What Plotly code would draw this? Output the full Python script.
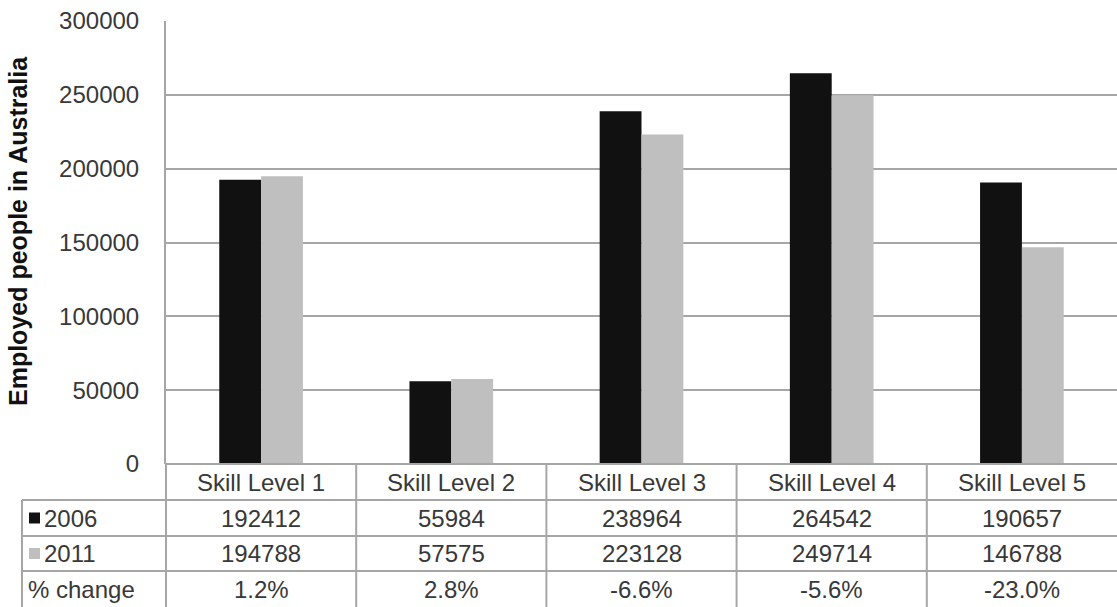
import plotly.graph_objects as go

# Employment by skill level, census years 2006 and 2011
categories = ["Skill Level 1", "Skill Level 2", "Skill Level 3", "Skill Level 4", "Skill Level 5"]
years = ["2006", "2011"]
employed_2006 = [192412, 55984, 238964, 264542, 190657]
employed_2011 = [194788, 57575, 223128, 249714, 146788]
pct_change = ["1.2%", "2.8%", "-6.6%", "-5.6%", "-23.0%"]
y_ticks = [0, 50000, 100000, 150000, 200000, 250000, 300000]

W, H = 1117, 607
M_L, M_R, M_T, M_B = 166, 0, 21, 143
PLOT_W = W - M_L - M_R
PLOT_H = H - M_T - M_B

TEXT = "#383838"
LINE = "#a6a6a6"
COLORS = ["#111111", "#bfbfbf"]
FONT = "Liberation Sans, Arial, sans-serif"
FS = 24


def px_x(px):
    return (px - M_L) / PLOT_W


def px_y(py):
    return (H - M_B - py) / PLOT_H


fig = go.Figure()
for name, vals, col in zip(years, [employed_2006, employed_2011], COLORS):
    fig.add_trace(go.Bar(x=categories, y=vals, name=name, marker=dict(color=col, line=dict(width=0))))

shapes = []
annotations = []


def label(x, y, text, xanchor="center", size=FS, color=TEXT, angle=0):
    annotations.append(dict(x=x, y=y, xref="paper", yref="paper", text=text, xanchor=xanchor,
                            yanchor="middle", textangle=angle, showarrow=False,
                            font=dict(size=size, color=color, family=FONT)))


# data table underneath the bars
row_edges = [464, 500, 536, 571, 607]
row_y = [px_y(v) for v in row_edges]
n = len(categories)
x_left = px_x(22)

# horizontal rules
shapes.append(dict(type="line", xref="paper", yref="paper", x0=0, x1=1, y0=row_y[0], y1=row_y[0],
                   line=dict(color=LINE, width=2)))
for yy in row_y[1:4]:
    shapes.append(dict(type="line", xref="paper", yref="paper", x0=x_left, x1=1, y0=yy, y1=yy,
                       line=dict(color=LINE, width=2)))
# vertical rules
for i in range(n):
    shapes.append(dict(type="line", xref="paper", yref="paper", x0=i / n, x1=i / n, y0=row_y[0], y1=row_y[4],
                       line=dict(color=LINE, width=2)))
shapes.append(dict(type="line", xref="paper", yref="paper", x0=x_left, x1=x_left, y0=row_y[1], y1=row_y[4],
                   line=dict(color=LINE, width=2)))


def mid(a, b):
    return (a + b) / 2


# header row
for i, c in enumerate(categories):
    label((i + 0.5) / n, mid(row_y[0], row_y[1]), c)
# value rows
rows = [[f"{v}" for v in employed_2006], [f"{v}" for v in employed_2011], pct_change]
for r, vals in enumerate(rows):
    yc = mid(row_y[r + 1], row_y[r + 2])
    for i, v in enumerate(vals):
        label((i + 0.5) / n, yc, v)

# row labels with legend keys
for r, (name, col) in enumerate(zip(years, COLORS)):
    yc = mid(row_y[r + 1], row_y[r + 2])
    shapes.append(dict(type="rect", xref="paper", yref="paper", x0=px_x(29), x1=px_x(40),
                       y0=yc - 5.5 / PLOT_H, y1=yc + 5.5 / PLOT_H, fillcolor=col, line=dict(width=0)))
    label(px_x(42), yc, name, xanchor="left")
label(px_x(26), mid(row_y[3], row_y[4]), "% change", xanchor="left")

# rotated axis title
label(px_x(18), px_y(231), "<b>Employed people in Australia</b>", size=25, color="#111111", angle=-90)

fig.update_layout(
    width=W, height=H,
    margin=dict(l=M_L, r=M_R, t=M_T, b=M_B, pad=0),
    paper_bgcolor="white", plot_bgcolor="white",
    barmode="group", bargap=0.56, bargroupgap=0,
    showlegend=False,
    shapes=shapes, annotations=annotations,
    xaxis=dict(showticklabels=False, ticks="", showgrid=False, showline=False, zeroline=False,
               range=[-0.5, n - 0.5], fixedrange=True),
    yaxis=dict(range=[0, 300000], tickvals=y_ticks, ticktext=[str(v) for v in y_ticks],
               showgrid=True, gridcolor=LINE, gridwidth=2, zeroline=False,
               showline=True, linecolor=LINE, linewidth=2,
               ticks="outside", ticklen=20, tickcolor="rgba(0,0,0,0)",
               tickfont=dict(size=FS, color=TEXT, family=FONT), fixedrange=True),
)

fig.write_html("out.html", config={"displayModeBar": False})
